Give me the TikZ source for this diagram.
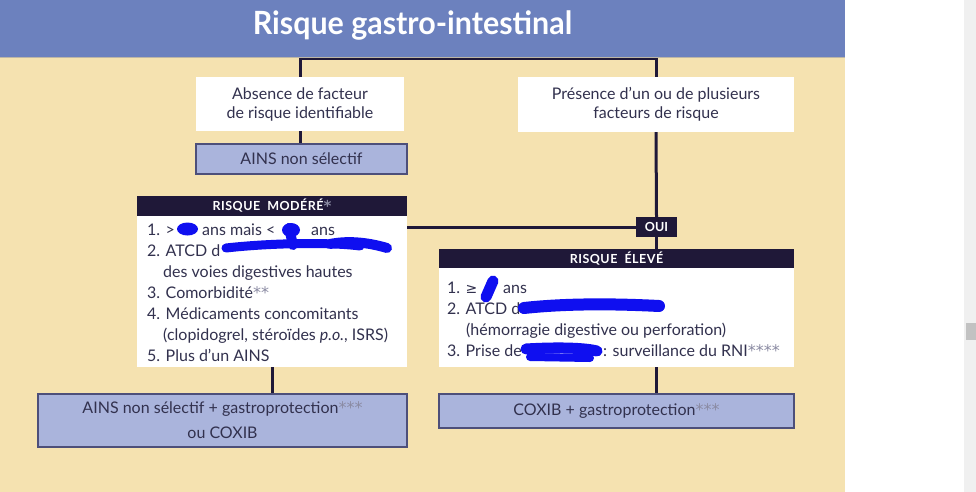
\documentclass[tikz,border=0pt]{standalone}
\usepackage{fontspec}
\setmainfont{Lato}
\newfontfamily\symfont{DejaVu Sans}
\definecolor{beige}{HTML}{F5E2B0}
\definecolor{headblue}{HTML}{6C81BE}
\definecolor{boxblue}{HTML}{AAB4DC}
\definecolor{boxborder}{HTML}{4D4F7A}
\definecolor{navy}{HTML}{1F1838}
\definecolor{txt}{HTML}{32314E}
\definecolor{starcol}{HTML}{8A8AA2}
\definecolor{scribble}{HTML}{0F0FF0}
\definecolor{scrollbg}{HTML}{F0F0F0}
\definecolor{thumb}{HTML}{C2C2C2}
\definecolor{rule}{HTML}{BDB6A6}
\newcommand{\stars}[1]{\textcolor{starcol}{\symfont #1}}
\begin{document}
\begin{tikzpicture}[x=1pt,y=-1pt,
  whitebox/.style={fill=white, draw=none, inner sep=0pt, align=center, text=txt, font=\fontsize{16}{19}\selectfont},
  bluebox/.style={fill=boxblue, draw=boxborder, line width=1.2pt, inner sep=0pt, align=center, text=txt, font=\fontsize{16}{25}\selectfont},
  navybox/.style={fill=navy, draw=none, inner sep=0pt, text=white, font=\bfseries\fontsize{12.5}{12.5}\selectfont},
  conn/.style={draw=navy, line width=3pt},
  item/.style={anchor=base west, inner sep=0pt, text=txt, font=\fontsize{16}{19}\selectfont},
  scrib/.style={draw=scribble, line cap=round, line join=round}
]
\useasboundingbox (0,0) rectangle (976,492);
\fill[white] (0,0) rectangle (976,492);
\fill[scrollbg] (964,0) rectangle (976,492);
\fill[thumb] (966,323) rectangle (976,340);
\fill[beige] (0,57) rectangle (845,492);

% boxes
\node[whitebox, minimum width=208pt, minimum height=54pt] (absence) at (300,104) {Absence de facteur\\de risque identifiable};
\node[whitebox, minimum width=276pt, minimum height=55pt] (presence) at (656,104.5) {Présence d’un ou de plusieurs\\facteurs de risque};
\node[bluebox, minimum width=211pt, minimum height=30pt] (ains) at (301.5,159) {AINS non sélectif};
\node[navybox, minimum width=270pt, minimum height=20pt] (modhead) at (272,206) {\addfontfeature{LetterSpace=4}RISQUE\ \ MODÉRÉ\stars{\fontsize{15}{15}\selectfont\raisebox{-1pt}{*}}};
\node[whitebox, minimum width=270pt, minimum height=151pt] (modbody) at (272,291.5) {};
\node[navybox, minimum width=41pt, minimum height=20pt] (oui) at (656.5,227) {OUI};
\node[navybox, minimum width=355pt, minimum height=19pt] (elevhead) at (616.5,258.5) {\addfontfeature{LetterSpace=4}RISQUE\ \ ÉLEVÉ};
\node[whitebox, minimum width=355pt, minimum height=99pt] (elevbody) at (616.5,317.5) {};
\node[bluebox, minimum width=369pt, minimum height=53pt] (bleft) at (222.5,420.5) {AINS non sélectif + gastroprotection\stars{***}\\ou COXIB};
\node[bluebox, minimum width=355pt, minimum height=34pt] (bright) at (616.5,411) {COXIB + gastroprotection\stars{***}};

% connectors
\draw[conn] (absence.north) -- ++(0,-18.5) -| (presence.north);
\draw[conn] (absence.south) -- (absence.south |- ains.north);
\draw[conn] (presence.south) -- (oui.north);
\draw[conn] (oui.south) -- (oui.south |- elevhead.north);
\draw[conn] (oui.west) -- (oui.west -| modbody.east);
\draw[conn] (modbody.south) -- (modbody.south |- bleft.north);
\draw[conn] (oui.south |- elevbody.south) -- (oui.south |- bright.north);

% header
\fill[headblue] (0,0) rectangle (845,57);
\draw[rule, line width=0.8pt] (0,57.2) -- (845,57.2);
\node[inner sep=0pt, anchor=base, text=white, font=\bfseries\fontsize{32}{32}\selectfont] (title) at (412.5,35) {\scalebox{0.95}[1]{Risque gastro-intestinal}};

% moderate list
\node[item] (m1a) at (147,235) {1. >};
\node[item] (m1b) at (202,235) {ans mais <};
\node[item] (m1c) at (311,235) {ans};
\node[item] (m2) at (147,256) {2. ATCD d};
\node[item] (m3) at (163,277) {des voies digestives hautes};
\node[item] (m4) at (147,298) {3. Comorbidité\stars{**}};
\node[item] (m5) at (147,319) {4. Médicaments concomitants};
\node[item] (m6) at (163,340) {(clopidogrel, stéroïdes \textit{p.o.}, ISRS)};
\node[item] (m7) at (147,361) {5. Plus d’un AINS};

% high list
\node[item] (e1a) at (447,293) {1. {\symfont\fontsize{14}{14}\selectfont ≥}};
\node[item] (e1b) at (503,293) {ans};
\node[item] (e2) at (447,314) {2. ATCD d};
\node[item] (e3) at (466,335) {(hémorragie digestive ou perforation)};
\node[item] (e4a) at (447,356) {3. Prise de};
\node[item] (e4b) at (603,356) {: surveillance du RNI\stars{****}};

% scribbles
\fill[scribble] (187.5,229) ellipse (10.5pt and 6.5pt);
\draw[scrib, line width=10pt] (289,228) -- (293,245);
\fill[scribble] (291,230) ellipse (9pt and 7pt);
\draw[scrib, line width=9pt] (226,248) .. controls (270,243) and (330,242) .. (360,246);
\draw[scrib, line width=10pt] (330,244) .. controls (350,240) and (370,243) .. (387,248);
\draw[scrib, line width=11pt] (493,281) -- (486,297);
\draw[scrib, line width=12pt] (524,308) .. controls (570,303) and (620,304) .. (659,306);
\draw[scrib, line width=11pt] (526,349) .. controls (560,347) and (585,348) .. (597,351);
\draw[scrib, line width=8pt] (530,357) -- (590,358);
\end{tikzpicture}
\end{document}
